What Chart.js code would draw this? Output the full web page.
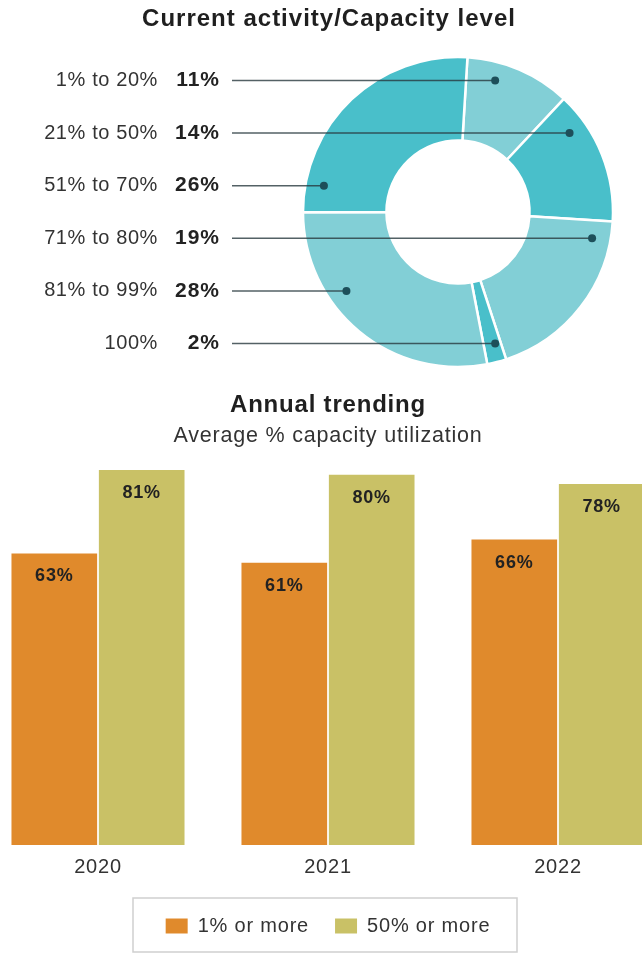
<!DOCTYPE html>
<html lang="en">
<head>
  <meta charset="utf-8">
  <title>Capacity level</title>
  <style type="text/css">
    html, body { margin: 0; padding: 0; background: #fff; overflow: hidden; }
    .page { position: relative; width: 642px; height: 954px; }
    #ringChart { position: absolute; left: 0; top: 0; }
    #trendChart { position: absolute; left: -17px; top: 385px; }
  </style>
</head>
<body>
  <div class="page">
    <canvas id="ringChart" width="642" height="400"></canvas>
    <canvas id="trendChart" width="690" height="569"></canvas>
  </div>

  <script src="https://cdn.jsdelivr.net/npm/chart.js@4.4.1/dist/chart.umd.min.js"></script>
  <script>
    // capacity bands, listed top to bottom as in the key
    var bands = ['1% to 20%', '21% to 50%', '51% to 70%', '71% to 80%', '81% to 99%', '100%'];
    var shares = [11, 14, 26, 19, 28, 2];
    // order of the bands going clockwise round the ring from 12 o'clock
    var ringOrder = [0, 1, 3, 5, 4, 2];
    var bandColors = ['#82cfd6', '#49bfca', '#49bfca', '#82cfd6', '#82cfd6', '#49bfca'];

    var years = ['2020', '2021', '2022'];
    var seriesNames = ['1% or more', '50% or more'];
    var anyActivity = [63, 61, 66];
    var halfCapacity = [81, 80, 78];

    var FONT = '"Liberation Sans", Arial, sans-serif';
    Chart.defaults.font.family = FONT;
    Chart.defaults.color = '#333';

    // a little tracking on the canvas text
    var tracking = {
      id: 'tracking',
      beforeUpdate: function(chart) { chart.ctx.letterSpacing = '0.8px'; },
      beforeDraw: function(chart) { chart.ctx.letterSpacing = '0.8px'; }
    };

    // title, band names and leader lines to a dot inside each slice
    var bandRows = {
      id: 'bandRows',
      afterDatasetsDraw: function(chart, args, opts) {
        var ctx = chart.ctx;
        var arcs = chart.getDatasetMeta(0).data;
        var a0 = arcs[0];
        var cx = a0.x, cy = a0.y;
        var rDot = a0.innerRadius + 0.78 * (a0.outerRadius - a0.innerRadius);
        ctx.save();
        ctx.letterSpacing = '1px';
        ctx.fillStyle = '#1f1f1f';
        ctx.font = 'bold 24px ' + FONT;
        ctx.textAlign = 'center';
        ctx.textBaseline = 'middle';
        ctx.fillText(opts.title, opts.titleX, opts.titleY);

        bands.forEach(function(band, i) {
          var y = cy + (i - (bands.length - 1) / 2) * opts.rowStep;
          ctx.textAlign = 'right';
          ctx.letterSpacing = '0.6px';
          ctx.fillStyle = '#333';
          ctx.font = '20px ' + FONT;
          ctx.fillText(band, opts.bandX, y);
          ctx.letterSpacing = '1px';
          ctx.fillStyle = '#222';
          ctx.font = 'bold 21px ' + FONT;
          ctx.fillText(shares[i] + '%', opts.shareX, y);

          // where the row meets the ring inside this band's slice
          var arc = arcs[ringOrder.indexOf(i)];
          var dy = y - cy;
          var dx = Math.sqrt(Math.max(rDot * rDot - dy * dy, 0));
          var mid = (arc.startAngle + arc.endAngle) / 2;
          var best = null;
          [cx + dx, cx - dx].forEach(function(x) {
            var ang = Math.atan2(dy, x - cx);
            while (ang < arc.startAngle) ang += Math.PI * 2;
            while (ang > arc.startAngle + Math.PI * 2) ang -= Math.PI * 2;
            var inside = ang <= arc.endAngle;
            var dist = Math.abs(ang - mid);
            if (best === null || (inside && !best.inside) || (inside === best.inside && dist < best.dist)) {
              best = { x: x, inside: inside, dist: dist };
            }
          });

          ctx.strokeStyle = 'rgba(40, 58, 62, 0.8)';
          ctx.lineWidth = 1.5;
          ctx.beginPath();
          ctx.moveTo(opts.lineX, y);
          ctx.lineTo(best.x, y);
          ctx.stroke();
          ctx.fillStyle = '#1d4f5a';
          ctx.beginPath();
          ctx.arc(best.x, y, 4, 0, Math.PI * 2);
          ctx.fill();
        });
        ctx.restore();
      }
    };

    var ringChart = new Chart(document.getElementById('ringChart').getContext('2d'), {
      type: 'doughnut',
      data: {
        labels: ringOrder.map(function(i) { return bands[i]; }),
        datasets: [{
          data: ringOrder.map(function(i) { return shares[i]; }),
          backgroundColor: ringOrder.map(function(i) { return bandColors[i]; }),
          borderColor: '#ffffff',
          borderWidth: 2.5
        }]
      },
      options: {
        responsive: false,
        animation: false,
        rotation: 3.5,
        radius: 155,
        cutout: 71,
        layout: { padding: { left: 303, right: 29, top: 57, bottom: 33 } },
        plugins: {
          legend: { display: false },
          tooltip: { enabled: false },
          bandRows: {
            title: 'Current activity/Capacity level',
            titleX: 329,
            titleY: 19,
            rowStep: 52.6,
            bandX: 158,
            shareX: 220,
            lineX: 232
          }
        }
      },
      plugins: [tracking, bandRows]
    });

    // value printed just inside the top of every bar
    var barValues = {
      id: 'barValues',
      afterDatasetsDraw: function(chart) {
        var ctx = chart.ctx;
        ctx.save();
        ctx.fillStyle = '#222';
        ctx.font = 'bold 18px ' + FONT;
        ctx.textAlign = 'center';
        ctx.textBaseline = 'middle';
        chart.data.datasets.forEach(function(ds, d) {
          chart.getDatasetMeta(d).data.forEach(function(bar, i) {
            ctx.fillText(ds.data[i] + '%', bar.x, bar.y + 23);
          });
        });
        ctx.restore();
      }
    };

    // thin frame round the legend
    var legendFrame = {
      id: 'legendFrame',
      afterDraw: function(chart) {
        var boxes = chart.legend.legendHitBoxes;
        if (!boxes || !boxes.length) return;
        var last = boxes[boxes.length - 1];
        var midX = (boxes[0].left + last.left + last.width) / 2 - 3;
        var midY = boxes[0].top + boxes[0].height / 2;
        var ctx = chart.ctx;
        ctx.save();
        ctx.strokeStyle = '#cfcfcf';
        ctx.lineWidth = 1.5;
        ctx.strokeRect(midX - 192, midY - 28, 384, 54);
        ctx.restore();
      }
    };

    var trendChart = new Chart(document.getElementById('trendChart').getContext('2d'), {
      type: 'bar',
      data: {
        labels: years,
        datasets: [
          { label: seriesNames[0], data: anyActivity, backgroundColor: '#e08a2c', borderWidth: 0 },
          { label: seriesNames[1], data: halfCapacity, backgroundColor: '#c9c166', borderWidth: 0 }
        ]
      },
      options: {
        responsive: false,
        animation: false,
        categoryPercentage: 0.76,
        barPercentage: 0.98,
        layout: { padding: { left: 0, right: 0, top: 0, bottom: 8 } },
        plugins: {
          title: {
            display: true,
            text: 'Annual trending',
            color: '#1f1f1f',
            font: { size: 24, weight: 'bold' },
            padding: { top: 6.4, bottom: 0 }
          },
          subtitle: {
            display: true,
            text: 'Average % capacity utilization',
            color: '#333',
            font: { size: 21.5 },
            padding: { top: 2.9, bottom: 2.7 }
          },
          legend: {
            position: 'bottom',
            labels: { boxWidth: 22, boxHeight: 15, padding: 26, color: '#333', font: { size: 20 } }
          },
          tooltip: { enabled: false }
        },
        scales: {
          x: {
            grid: { display: false, drawTicks: false },
            border: { display: false },
            ticks: { color: '#333', font: { size: 20 }, padding: 10 },
            afterFit: function(scale) { scale.height = 45; }
          },
          y: { display: false, min: 0, max: 85 }
        }
      },
      plugins: [tracking, barValues, legendFrame]
    });
  </script>
</body>
</html>
